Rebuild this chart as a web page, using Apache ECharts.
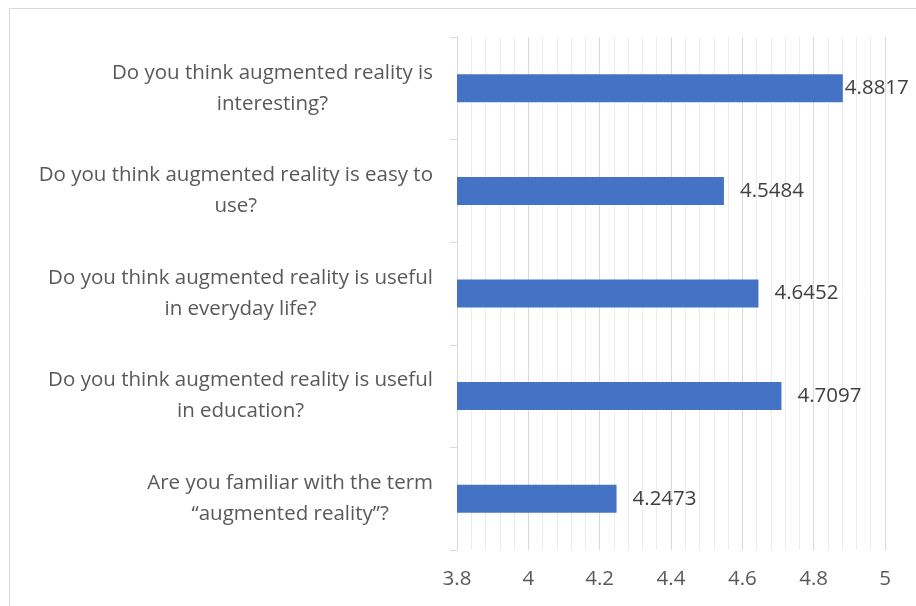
<!DOCTYPE html>
<html>
<head>
<meta charset="utf-8">
<script src="https://cdn.jsdelivr.net/npm/echarts@6/dist/echarts.min.js"></script>
<style>
  html, body { margin: 0; padding: 0; background: #fff; }
  #chart { width: 916px; height: 606px; }
</style>
</head>
<body>
<div id="chart"></div>
<script>
// Survey questions (top to bottom) and their mean scores
const questions = [
  ['Do you think augmented reality is', 'interesting?'],
  ['Do you think augmented reality is easy to', 'use?'],
  ['Do you think augmented reality is useful', 'in everyday life?'],
  ['Do you think augmented reality is useful', 'in education?'],
  ['Are you familiar with the term', '\u201Caugmented reality\u201D?']
];
const meanScores = [4.8817, 4.5484, 4.6452, 4.7097, 4.2473];
const labelGaps = [2, 16, 16, 16, 16];
const axisMin = 3.8;
const axisMax = 5;
const axisStep = 0.2;

const FONT = '"Open Sans", "Noto Sans", sans-serif';
const FS = 20.5;
const categories = questions.map(q => q.join('\n'));

const chart = echarts.init(document.getElementById('chart'));
chart.setOption({
  animation: false,
  backgroundColor: '#ffffff',
  textStyle: { fontFamily: FONT },
  graphic: [{
    type: 'rect',
    left: 7, top: 6,
    shape: { width: 930, height: 620 },
    style: { fill: 'none', stroke: '#d9d9d9', lineWidth: 1 },
    silent: true
  }],
  grid: { left: 457, right: 31, top: 37, bottom: 56, containLabel: false },
  xAxis: {
    type: 'value',
    min: axisMin,
    max: axisMax,
    interval: axisStep,
    axisLine: { show: false },
    axisTick: { show: false },
    axisLabel: {
      color: '#595959', fontSize: FS, fontFamily: FONT, margin: 19,
      formatter: v => String(Math.round(v * 10) / 10)
    },
    splitLine: { show: true, lineStyle: { color: '#d9d9d9', width: 1 } },
    minorTick: { show: false, splitNumber: 5 },
    minorSplitLine: { show: true, lineStyle: { color: '#ececec', width: 1 } }
  },
  yAxis: {
    type: 'category',
    inverse: true,
    data: categories,
    axisLine: { show: true, lineStyle: { color: '#d9d9d9' } },
    axisTick: { show: true, length: 7, lineStyle: { color: '#d9d9d9' } },
    axisLabel: {
      color: '#595959', fontSize: FS, fontFamily: FONT, margin: 24,
      align: 'right', lineHeight: 31,
      formatter: v => v.split('\n').map(s => '{c|' + s + '}').join('\n'),
      rich: { c: { align: 'center', color: '#595959', fontSize: FS, fontFamily: FONT, lineHeight: 31 } }
    }
  },
  series: [{
    type: 'bar',
    barWidth: 28,
    itemStyle: { color: '#4472c4' },
    label: {
      show: true, position: 'right', color: '#404040', fontSize: FS, fontFamily: FONT,
      formatter: p => String(p.value)
    },
    data: meanScores.map((v, i) => ({ value: v, label: { distance: labelGaps[i] } }))
  }]
});
</script>
</body>
</html>
